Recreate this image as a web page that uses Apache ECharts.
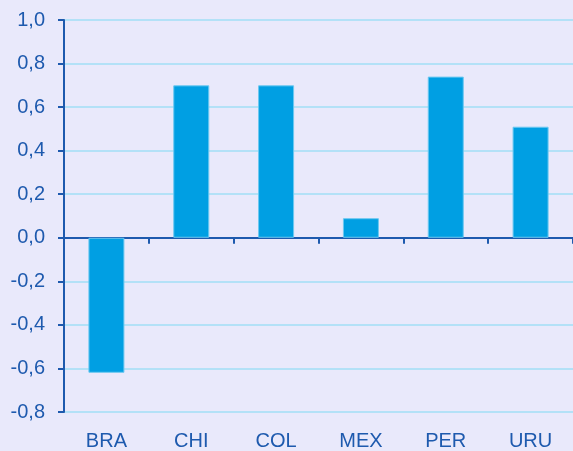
<!DOCTYPE html>
<html><head><meta charset="utf-8">
<script src="https://cdn.jsdelivr.net/npm/echarts@6/dist/echarts.min.js"></script>
<style>html,body{margin:0;padding:0;background:#E9E9FB}#c{width:573px;height:451px}</style>
</head><body><div id="c"></div>
<script>
const categories = ['BRA','CHI','COL','MEX','PER','URU'];
const values = [-0.62, 0.70, 0.70, 0.09, 0.74, 0.51];
const yMin = -0.8, yMax = 1.0, yStep = 0.2;
const blue = '#1E5AAE';
const chart = echarts.init(document.getElementById('c'));
chart.setOption({
  backgroundColor: '#E9E9FB',
  animation: false,
  grid: {left: 64, right: 0, top: 20, bottom: 37},
  xAxis: [{
    type: 'category', data: categories, position: 'bottom',
    axisLine: {show: false, onZero: false}, axisTick: {show: false},
    axisLabel: {color: blue, fontSize: 20, fontFamily: 'Liberation Sans, Arial', margin: 19}
  }, {
    type: 'category', data: categories, position: 'top',
    axisLine: {show: true, onZero: true, lineStyle: {color: blue, width: 2}},
    axisTick: {show: true, inside: true, length: 6, lineStyle: {color: blue, width: 2}},
    axisLabel: {show: false}
  }],
  yAxis: {
    type: 'value', min: yMin, max: yMax, interval: yStep,
    axisLine: {show: true, lineStyle: {color: blue, width: 2}},
    axisTick: {show: true, length: 6, lineStyle: {color: blue, width: 2}},
    axisLabel: {color: blue, fontSize: 20, fontFamily: 'Liberation Sans, Arial', margin: 19,
      formatter: v => v.toFixed(1).replace('.', ',')},
    splitLine: {show: true, lineStyle: {color: '#B3E1F7', width: 2}}
  },
  series: [{
    type: 'bar', data: values, xAxisIndex: 0, barWidth: 36,
    itemStyle: {color: '#009FE3', borderColor: '#6CC8F0', borderWidth: 1}
  }]
});
</script></body></html>
